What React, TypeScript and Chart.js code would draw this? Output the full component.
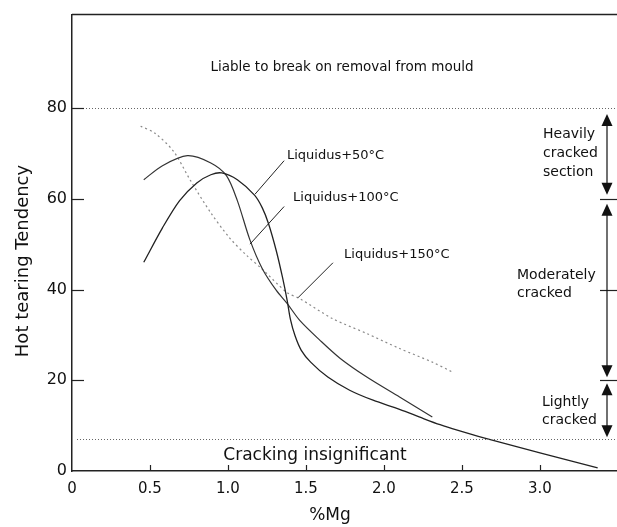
import React, { useEffect, useRef } from 'react';
import { Chart, registerables } from 'chart.js';

Chart.register(...registerables);

const FONT = '"DejaVu Sans", sans-serif';

// Liquidus + 50°C
const mg50 = [0.46, 0.58, 0.69, 0.80, 0.89, 0.96, 1.06, 1.17, 1.22, 1.26, 1.31, 1.35, 1.38, 1.40, 1.43, 1.47, 1.53, 1.64, 1.78, 1.93, 2.10, 2.25, 2.36, 2.47, 2.64, 3.00, 3.37];
const tendency50 = [46, 53.6, 59.6, 63.5, 65.3, 65.7, 64.2, 60.8, 58, 54.5, 48.5, 42.6, 37.5, 33.5, 29.8, 26.6, 24, 20.7, 17.8, 15.6, 13.6, 11.6, 10.2, 9.0, 7.3, 4.0, 0.7];

// Liquidus + 100°C
const mg100 = [0.46, 0.58, 0.74, 0.89, 0.99, 1.06, 1.14, 1.22, 1.31, 1.38, 1.46, 1.59, 1.72, 1.89, 2.10, 2.31];
const tendency100 = [64.2, 67.3, 69.5, 67.9, 65.1, 59.6, 51.0, 44.6, 39.8, 36.9, 33.2, 28.8, 24.8, 20.7, 16.3, 11.9];

// Liquidus + 150°C
const mg150 = [0.44, 0.53, 0.65, 0.76, 0.89, 1.01, 1.12, 1.21, 1.38, 1.46, 1.67, 1.89, 2.10, 2.31, 2.44];
const tendency150 = [76, 74.5, 70.5, 64, 56.9, 51.4, 47.5, 44.8, 39.3, 38, 33.6, 30.3, 27, 24, 21.8];

const seriesLabels = ['Liquidus+50°C', 'Liquidus+100°C', 'Liquidus+150°C'];

const xTickValues = [0, 0.5, 1, 1.5, 2, 2.5, 3];
const xTickLabels = ['0', '0.5', '1.0', '1.5', '2.0', '2.5', '3.0'];
const yTickValues = [0, 20, 40, 60, 80];
const yTickLabels = ['0', '20', '40', '60', '80'];

// severity band boundaries (Hot tearing Tendency)
const upperLimit = 80;
const heavyLimit = 60;
const moderateMid = 40;
const lightLimit = 20;
const insignificantLimit = 7;

const xTitle = '%Mg';
const yTitle = 'Hot tearing Tendency';
const topZoneText = 'Liable to break on removal from mould';
const bottomZoneText = 'Cracking insignificant';
const heavyText = ['Heavily', 'cracked', 'section'];
const moderateText = ['Moderately', 'cracked'];
const lightText = ['Lightly', 'cracked'];

const toPoints = (xs: number[], ys: number[]) => xs.map((x, i) => ({ x, y: ys[i] }));

const annotationPlugin = {
  id: 'hotTearAnnotations',
  afterDraw(chart: any) {
    const { ctx, chartArea, scales } = chart;
    const xs = scales.x;
    const ys = scales.y;
    const L = chartArea.left;
    const R = chartArea.right;
    const T = chartArea.top;
    const B = chartArea.bottom;
    const px = (v: number) => xs.getPixelForValue(v);
    const py = (v: number) => ys.getPixelForValue(v);
    ctx.save();

    // top frame line
    ctx.strokeStyle = '#222';
    ctx.lineWidth = 1.5;
    ctx.beginPath();
    ctx.moveTo(L, T);
    ctx.lineTo(R, T);
    ctx.stroke();

    // dotted limit lines
    ctx.strokeStyle = '#666';
    ctx.lineWidth = 1;
    ctx.setLineDash([1, 2]);
    [upperLimit, insignificantLimit].forEach((v) => {
      const y = Math.round(py(v)) + 0.5;
      ctx.beginPath();
      ctx.moveTo(L + 5, y);
      ctx.lineTo(R, y);
      ctx.stroke();
    });
    ctx.setLineDash([]);

    // inner ticks
    ctx.strokeStyle = '#222';
    ctx.lineWidth = 1.2;
    [lightLimit, moderateMid, heavyLimit, upperLimit].forEach((v) => {
      const y = Math.round(py(v)) + 0.5;
      ctx.beginPath();
      ctx.moveTo(L, y);
      ctx.lineTo(L + 12, y);
      ctx.stroke();
    });
    [lightLimit, moderateMid, heavyLimit].forEach((v) => {
      const y = Math.round(py(v)) + 0.5;
      ctx.beginPath();
      ctx.moveTo(R - 17, y);
      ctx.lineTo(R, y);
      ctx.stroke();
    });
    xTickValues.slice(1).forEach((v) => {
      const x = Math.round(px(v)) + 0.5;
      ctx.beginPath();
      ctx.moveTo(x, B);
      ctx.lineTo(x, B - 6);
      ctx.stroke();
    });

    // double-headed arrows
    const ax = R - 10;
    const drawArrow = (yTop: number, yBot: number) => {
      ctx.strokeStyle = '#111';
      ctx.fillStyle = '#111';
      ctx.lineWidth = 1.2;
      ctx.beginPath();
      ctx.moveTo(ax, yTop + 10);
      ctx.lineTo(ax, yBot - 10);
      ctx.stroke();
      ctx.beginPath();
      ctx.moveTo(ax, yTop);
      ctx.lineTo(ax - 5.5, yTop + 12);
      ctx.lineTo(ax + 5.5, yTop + 12);
      ctx.closePath();
      ctx.fill();
      ctx.beginPath();
      ctx.moveTo(ax, yBot);
      ctx.lineTo(ax - 5.5, yBot - 12);
      ctx.lineTo(ax + 5.5, yBot - 12);
      ctx.closePath();
      ctx.fill();
    };
    drawArrow(py(upperLimit) + 6, py(heavyLimit) - 4);
    drawArrow(py(heavyLimit) + 5, py(lightLimit) - 3);
    drawArrow(py(lightLimit) + 3, py(insignificantLimit) - 2);

    // leader lines for series labels
    ctx.strokeStyle = '#222';
    ctx.lineWidth = 1;
    const leaders = [
      [1.36, 68.4, 1.173, 61.0],
      [1.36, 58.3, 1.141, 50.0],
      [1.673, 45.9, 1.449, 38.2],
    ];
    leaders.forEach(([x1, y1, x2, y2]) => {
      ctx.beginPath();
      ctx.moveTo(px(x1), py(y1));
      ctx.lineTo(px(x2), py(y2));
      ctx.stroke();
    });

    // texts
    ctx.fillStyle = '#111';
    ctx.textBaseline = 'middle';
    ctx.font = `13px ${FONT}`;
    ctx.textAlign = 'left';
    const labelAnchors = [
      [1.378, 69.6],
      [1.417, 60.2],
      [1.744, 47.7],
    ];
    seriesLabels.forEach((t, i) => {
      ctx.fillText(t, px(labelAnchors[i][0]), py(labelAnchors[i][1]));
    });

    ctx.textAlign = 'center';
    ctx.font = `13.5px ${FONT}`;
    ctx.fillText(topZoneText, 342, py(89));
    ctx.font = `17px ${FONT}`;
    ctx.fillText(bottomZoneText, px(1.558), py(3.5));

    ctx.textAlign = 'left';
    ctx.font = `14px ${FONT}`;
    const drawLines = (lines: string[], x: number, yc: number, lh: number) => {
      const y0 = yc - ((lines.length - 1) * lh) / 2;
      lines.forEach((l, i) => ctx.fillText(l, x, y0 + i * lh));
    };
    drawLines(heavyText, R - 74, py(70), 19);
    drawLines(moderateText, R - 100, py(41.1), 18);
    drawLines(lightText, R - 75, py(13.1), 18);

    // axis titles
    ctx.textAlign = 'center';
    ctx.font = `17px ${FONT}`;
    ctx.fillText(xTitle, 330, 516);
    ctx.save();
    ctx.translate(23, 261);
    ctx.rotate(-Math.PI / 2);
    ctx.font = `18px ${FONT}`;
    ctx.fillText(yTitle, 0, 0);
    ctx.restore();

    ctx.restore();
  },
};

export default function App() {
  const canvasRef = useRef<HTMLCanvasElement | null>(null);

  useEffect(() => {
    if (!canvasRef.current) return;
    const chart = new Chart(canvasRef.current, {
      type: 'scatter',
      data: {
        datasets: [
          {
            label: seriesLabels[0],
            data: toPoints(mg50, tendency50),
            showLine: true,
            borderColor: '#222',
            borderWidth: 1.3,
            pointRadius: 0,
            tension: 0.3,
          },
          {
            label: seriesLabels[1],
            data: toPoints(mg100, tendency100),
            showLine: true,
            borderColor: '#333',
            borderWidth: 1.2,
            pointRadius: 0,
            tension: 0.3,
          },
          {
            label: seriesLabels[2],
            data: toPoints(mg150, tendency150),
            showLine: true,
            borderColor: '#8a8a8a',
            borderWidth: 1.2,
            borderDash: [2, 3],
            pointRadius: 0,
            tension: 0.3,
          },
        ],
      },
      options: {
        animation: false,
        responsive: true,
        maintainAspectRatio: false,
        layout: { padding: { top: 13, left: 0, right: 0, bottom: 0 } },
        plugins: {
          legend: { display: false },
          tooltip: { enabled: false },
        },
        scales: {
          x: {
            type: 'linear',
            min: 0,
            max: 3.494,
            grid: { display: false, drawTicks: false },
            border: { display: true, color: '#222', width: 1.5 },
            afterBuildTicks: (scale: any) => {
              scale.ticks = xTickValues.map((v) => ({ value: v }));
            },
            afterFit: (scale: any) => {
              scale.height = 56;
            },
            ticks: {
              autoSkip: false,
              maxRotation: 0,
              padding: 9,
              color: '#111',
              font: { family: FONT, size: 15 },
              callback: (_v: any, i: number) => xTickLabels[i],
            },
          },
          y: {
            type: 'linear',
            min: 0,
            max: 100.6,
            grid: { display: false, drawTicks: false },
            border: { display: true, color: '#222', width: 1.5 },
            afterBuildTicks: (scale: any) => {
              scale.ticks = yTickValues.map((v) => ({ value: v }));
            },
            afterFit: (scale: any) => {
              scale.width = 72;
            },
            ticks: {
              autoSkip: false,
              padding: 5,
              color: '#111',
              font: { family: FONT, size: 16 },
              callback: (_v: any, i: number) => yTickLabels[i],
            },
          },
        },
      },
      plugins: [annotationPlugin],
    } as any);
    return () => chart.destroy();
  }, []);

  return (
    <div style={{ position: 'fixed', left: 0, top: 0, width: 617, height: 527, background: '#fff' }}>
      <canvas ref={canvasRef} />
    </div>
  );
}
